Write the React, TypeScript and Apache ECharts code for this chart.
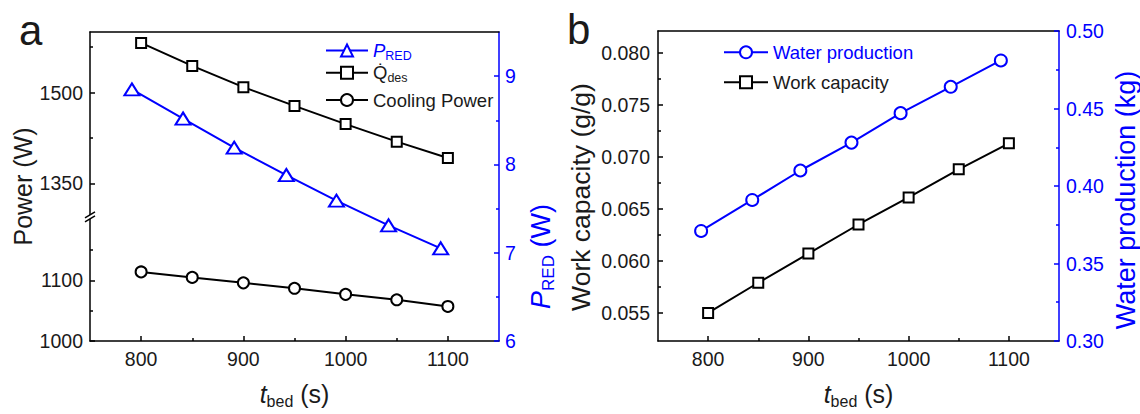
import React, { useEffect, useRef } from 'react';
import * as echarts from 'echarts';

// ---------- data ----------
const tBed = [800, 850, 900, 950, 1000, 1050, 1100];
const tBedPRed = [791, 841, 891, 942, 991, 1042, 1093];
const tBedWater = [793, 844, 892, 943, 992, 1042, 1092];
const qDes = [1582, 1544, 1509, 1478, 1448, 1419, 1392];
const coolingPower = [1114, 1105, 1096, 1087, 1077, 1068, 1057];
const pRed = [8.85, 8.52, 8.19, 7.88, 7.59, 7.31, 7.05];
const waterProduction = [0.371, 0.391, 0.41, 0.428, 0.447, 0.464, 0.481];
const workCapacity = [0.055, 0.0579, 0.0607, 0.0635, 0.0661, 0.0688, 0.0713];

const xMajorTicks = [800, 900, 1000, 1100];
const xMinorTicks = [850, 950, 1050];
const powerMajorTicks = [1000, 1100, 1350, 1500];
const powerMinorTicks = [1050, 1150, 1425, 1575];
const pRedMajorTicks = [6, 7, 8, 9];
const pRedMinorTicks = [6.5, 7.5, 8.5];
const wcMajorTicks = [0.055, 0.06, 0.065, 0.07, 0.075, 0.08];
const wcMinorTicks = [0.0575, 0.0625, 0.0675, 0.0725, 0.0775];
const wpMajorTicks = [0.3, 0.35, 0.4, 0.45, 0.5];
const wpMinorTicks = [0.325, 0.375, 0.425, 0.475];

// broken power axis: 1000-1205 | 1295-1600
const BREAK_VIRTUAL = 205;
const toVirtual = (v: number) => (v <= 1205 ? v - 1000 : v - 1090);
const toReal = (v: number) => (v <= BREAK_VIRTUAL ? v + 1000 : v + 1090);

const BLUE = '#0000ff';
const BLACK = '#000000';
const TXT = '#1a1a1a';
const FONT = 'Liberation Sans, Arial, Helvetica, sans-serif';

const zip = (xs: number[], ys: number[]) => xs.map((x, i) => [x, ys[i]]);

const baseAxis = (extra: any) => ({
  type: 'value',
  splitLine: { show: false },
  axisLine: { show: false, onZero: false },
  axisTick: { show: false },
  axisLabel: { show: false },
  ...extra,
});

const mainLine = (color: string) => ({ show: true, onZero: false, lineStyle: { color, width: 1.5 } });
const ticks = (vals: number[], len: number, color: string) => ({
  show: true,
  inside: true,
  length: len,
  customValues: vals,
  lineStyle: { color, width: 1.5 },
});
const labels = (vals: number[], color: string, fmt: (v: number) => string, margin: number) => ({
  show: true,
  customValues: vals,
  color,
  fontSize: 19.5,
  fontFamily: FONT,
  margin,
  formatter: fmt,
});

const tbedName = '{i|t}{s|bed}{n| (s)}';
const tbedStyle = {
  fontFamily: FONT,
  color: TXT,
  rich: {
    i: { fontStyle: 'italic', fontSize: 25, lineHeight: 30, fontFamily: FONT, color: TXT },
    s: { fontSize: 16, lineHeight: 16, verticalAlign: 'bottom', fontFamily: FONT, color: TXT },
    n: { fontSize: 25, lineHeight: 30, fontFamily: FONT, color: TXT },
  },
};

const xAxesFor = (grid: number) => [
  baseAxis({
    gridIndex: grid,
    position: 'bottom',
    min: 750,
    max: 1150,
    axisLine: mainLine(BLACK),
    axisTick: ticks(xMajorTicks, 5, BLACK),
    axisLabel: labels(xMajorTicks, TXT, (v: number) => String(v), 8),
    name: tbedName,
    nameLocation: 'middle',
    nameGap: 38,
    nameTextStyle: tbedStyle,
  }),
  baseAxis({
    gridIndex: grid,
    position: 'bottom',
    min: 750,
    max: 1150,
    axisTick: ticks(xMinorTicks, 3, BLACK),
  }),
  baseAxis({
    gridIndex: grid,
    position: 'top',
    min: 750,
    max: 1150,
    axisLine: mainLine(BLACK),
  }),
];

const legendRich = (color: string) => ({
  fontFamily: FONT,
  fontSize: 18.5,
  color,
  lineHeight: 24,
  rich: {
    m: { fontSize: 18.5, lineHeight: 24, fontFamily: FONT, color },
    i: { fontSize: 18.5, lineHeight: 24, fontStyle: 'italic', fontFamily: FONT, color },
    s: { fontSize: 12.5, lineHeight: 12.5, verticalAlign: 'bottom', fontFamily: FONT, color },
  },
});

const legendLabel = (name: string) => {
  if (name === 'P_RED') return '{i|P}{s|RED}';
  if (name === 'Q_des') return '{m|Q\u0307}{s|des}';
  return '{m|' + name + '}';
};

const mkLegend = (name: string, left: number, top: number, color: string, w: number) => ({
  data: [name],
  left,
  top,
  orient: 'vertical',
  padding: 0,
  itemWidth: w,
  itemHeight: 15,
  selectedMode: false,
  formatter: legendLabel,
  textStyle: legendRich(color),
});

const option: any = {
  animation: false,
  backgroundColor: '#ffffff',
  grid: [
    { left: 90, top: 32, width: 409, height: 316 },
    { left: 658, top: 31, width: 412, height: 316 },
  ],
  xAxis: [...xAxesFor(0), ...xAxesFor(1)],
  yAxis: [
    // 0: Power (broken)
    baseAxis({
      gridIndex: 0,
      position: 'left',
      min: 0,
      max: 510,
      axisLine: mainLine(BLACK),
      axisTick: ticks(powerMajorTicks.map(toVirtual), 5, BLACK),
      axisLabel: labels(powerMajorTicks.map(toVirtual), TXT, (v: number) => String(Math.round(toReal(v))), 7),
      name: 'Power (W)',
      nameLocation: 'middle',
      nameRotate: 90,
      nameGap: 55,
      nameTextStyle: { fontFamily: FONT, fontSize: 25, lineHeight: 25, color: TXT },
    }),
    baseAxis({
      gridIndex: 0,
      position: 'left',
      min: 0,
      max: 510,
      axisTick: ticks(powerMinorTicks.map(toVirtual), 3, BLACK),
    }),
    // 2: P_RED
    baseAxis({
      gridIndex: 0,
      position: 'right',
      min: 6,
      max: 9.5,
      axisLine: mainLine(BLUE),
      axisTick: ticks(pRedMajorTicks, 5, BLUE),
      axisLabel: labels(pRedMajorTicks, BLUE, (v: number) => String(v), 6),
      name: '{i|P}{s|RED}{n| (W)}',
      nameLocation: 'middle',
      nameRotate: 90,
      nameGap: 26,
      nameTextStyle: {
        fontFamily: FONT,
        color: BLUE,
        padding: [0, 140, 0, 0],
        rich: {
          i: { fontStyle: 'italic', fontSize: 27, lineHeight: 32, fontFamily: FONT, color: BLUE },
          s: { fontSize: 17, lineHeight: 17, verticalAlign: 'bottom', fontFamily: FONT, color: BLUE },
          n: { fontSize: 27, lineHeight: 32, fontFamily: FONT, color: BLUE },
        },
      },
    }),
    baseAxis({
      gridIndex: 0,
      position: 'right',
      min: 6,
      max: 9.5,
      axisTick: ticks(pRedMinorTicks, 3, BLUE),
    }),
    // 4: Work capacity
    baseAxis({
      gridIndex: 1,
      position: 'left',
      min: 0.0523,
      max: 0.0821,
      axisLine: mainLine(BLACK),
      axisTick: ticks(wcMajorTicks, 5, BLACK),
      axisLabel: labels(wcMajorTicks, TXT, (v: number) => v.toFixed(3), 8),
      name: 'Work capacity (g/g)',
      nameLocation: 'middle',
      nameRotate: 90,
      nameGap: 64,
      nameTextStyle: { fontFamily: FONT, fontSize: 26.5, lineHeight: 26.5, color: TXT, padding: [0, 22, 0, 0] },
    }),
    baseAxis({
      gridIndex: 1,
      position: 'left',
      min: 0.0523,
      max: 0.0821,
      axisTick: ticks(wcMinorTicks, 3, BLACK),
    }),
    // 6: Water production
    baseAxis({
      gridIndex: 1,
      position: 'right',
      min: 0.3,
      max: 0.5,
      axisLine: mainLine(BLUE),
      axisTick: ticks(wpMajorTicks, 5, BLUE),
      axisLabel: labels(wpMajorTicks, BLUE, (v: number) => v.toFixed(2), 7),
      name: 'Water production (kg)',
      nameLocation: 'middle',
      nameRotate: 90,
      nameGap: 53,
      nameTextStyle: { fontFamily: FONT, fontSize: 27, lineHeight: 27, color: BLUE, padding: [0, 28, 0, 0] },
    }),
    baseAxis({
      gridIndex: 1,
      position: 'right',
      min: 0.3,
      max: 0.5,
      axisTick: ticks(wpMinorTicks, 3, BLUE),
    }),
  ],
  legend: [
    mkLegend('P_RED', 325, 38.5, BLUE, 42),
    mkLegend('Q_des', 325, 60.7, TXT, 42),
    mkLegend('Cooling Power', 325, 88, TXT, 42),
    mkLegend('Water production', 723, 40.3, BLUE, 44),
    mkLegend('Work capacity', 723, 70.3, TXT, 44),
  ],
  series: [
    {
      name: 'P_RED',
      type: 'line',
      xAxisIndex: 0,
      yAxisIndex: 2,
      data: zip(tBedPRed, pRed),
      symbol: 'emptyTriangle',
      symbolSize: [15, 12],
      color: BLUE,
      itemStyle: { color: BLUE, borderColor: BLUE, borderWidth: 2 },
      lineStyle: { color: BLUE, width: 2 },
      z: 3,
    },
    {
      name: 'Q_des',
      type: 'line',
      xAxisIndex: 0,
      yAxisIndex: 0,
      data: zip(tBed, qDes.map(toVirtual)),
      symbol: 'emptyRect',
      symbolSize: 10,
      color: BLACK,
      itemStyle: { color: BLACK, borderColor: BLACK, borderWidth: 2 },
      lineStyle: { color: BLACK, width: 2 },
      z: 3,
    },
    {
      name: 'Cooling Power',
      type: 'line',
      xAxisIndex: 0,
      yAxisIndex: 0,
      data: zip(tBed, coolingPower.map(toVirtual)),
      symbol: 'emptyCircle',
      symbolSize: 11,
      color: BLACK,
      itemStyle: { color: BLACK, borderColor: BLACK, borderWidth: 2 },
      lineStyle: { color: BLACK, width: 2 },
      z: 3,
    },
    {
      name: 'Water production',
      type: 'line',
      xAxisIndex: 3,
      yAxisIndex: 6,
      data: zip(tBedWater, waterProduction),
      symbol: 'emptyCircle',
      symbolSize: 12,
      color: BLUE,
      itemStyle: { color: BLUE, borderColor: BLUE, borderWidth: 2 },
      lineStyle: { color: BLUE, width: 2 },
      z: 3,
    },
    {
      name: 'Work capacity',
      type: 'line',
      xAxisIndex: 3,
      yAxisIndex: 4,
      data: zip(tBed, workCapacity),
      symbol: 'emptyRect',
      symbolSize: 10,
      color: BLACK,
      itemStyle: { color: BLACK, borderColor: BLACK, borderWidth: 2 },
      lineStyle: { color: BLACK, width: 2 },
      z: 3,
    },
  ],
};

export default function App() {
  const ref = useRef<HTMLDivElement>(null);
  useEffect(() => {
    if (!ref.current) return;
    const chart = echarts.init(ref.current, null, { renderer: 'svg' });
    chart.setOption(option);
    const bx = chart.convertToPixel({ xAxisIndex: 0 }, 750) as number;
    const by = chart.convertToPixel({ yAxisIndex: 0 }, BREAK_VIRTUAL) as number;
    chart.setOption({
      graphic: [
        {
          type: 'text',
          z: 100,
          style: { text: 'a', x: 19, y: 51, fontSize: 42, fontFamily: FONT, fill: TXT, verticalAlign: 'bottom' },
        },
        {
          type: 'text',
          z: 100,
          style: { text: 'b', x: 567, y: 50, fontSize: 42, fontFamily: FONT, fill: TXT, verticalAlign: 'bottom' },
        },
        {
          type: 'polygon',
          z: 100,
          shape: {
            points: [
              [bx - 5, by + 5],
              [bx + 5, by - 1],
              [bx + 5, by - 5],
              [bx - 5, by + 1],
            ],
          },
          style: { fill: '#ffffff', stroke: 'none' },
        },
        {
          type: 'line',
          z: 101,
          shape: { x1: bx - 5, y1: by + 5, x2: bx + 5, y2: by - 1 },
          style: { stroke: BLACK, lineWidth: 1.5 },
        },
        {
          type: 'line',
          z: 101,
          shape: { x1: bx - 5, y1: by + 1, x2: bx + 5, y2: by - 5 },
          style: { stroke: BLACK, lineWidth: 1.5 },
        },
      ],
    });
    return () => chart.dispose();
  }, []);
  return (
    <div
      ref={ref}
      style={{ position: 'fixed', left: 0, top: 0, width: 1140, height: 414, background: '#ffffff' }}
    />
  );
}
